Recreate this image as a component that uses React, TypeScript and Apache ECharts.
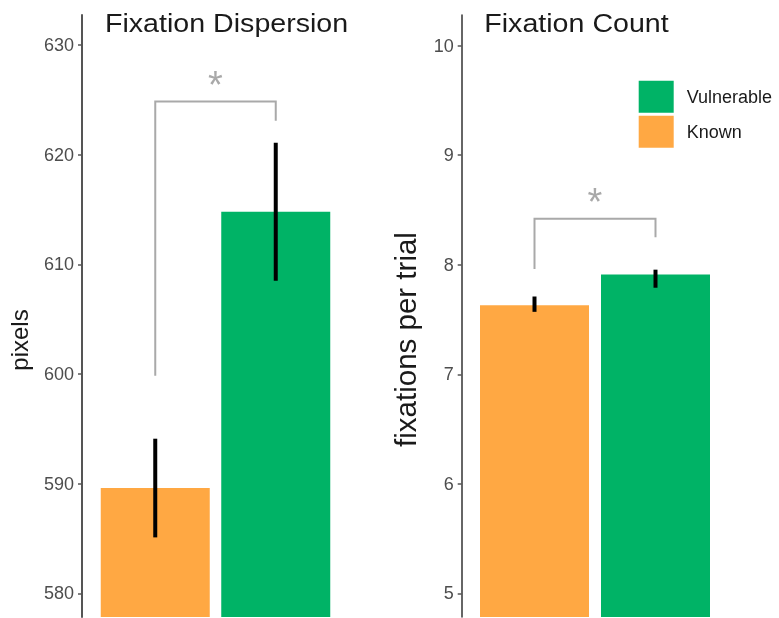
import React, { useEffect, useRef } from "react";
import * as echarts from "echarts";

// ---- data ----
const categories = ["Known", "Vulnerable"];
const seriesNames = ["Known", "Vulnerable"];
const dispersionMeans = [589.6, 614.8];
const dispersionLow = [585.1, 608.5];
const dispersionHigh = [594.1, 621.1];
const countMeans = [7.63, 7.91];
const countLow = [7.57, 7.79];
const countHigh = [7.71, 7.955];
// [left foot, bracket top, right foot]
const dispersionBracket = [599.85, 624.85, 623.1];
const countBracket = [7.96, 8.42, 8.25];
const dispersionTicks = [580, 590, 600, 610, 620, 630];
const countTicks = [5, 6, 7, 8, 9, 10];
const titles = ["Fixation Dispersion", "Fixation Count"];
const axisNames = ["pixels", "fixations per trial"];
const significance = "*";

const ORANGE = "#FFA843";
const GREEN = "#00B366";
const FONT = "Liberation Sans";

function errorBarSeries(gridIdx: number, low: number[], high: number[]) {
  return {
    type: "custom",
    xAxisIndex: gridIdx,
    yAxisIndex: gridIdx,
    data: low.map((l, i) => [i, l, high[i]]),
    renderItem: (params: any, api: any) => {
      const x = api.value(0);
      const a = api.coord([x, api.value(1)]);
      const b = api.coord([x, api.value(2)]);
      return {
        type: "line",
        shape: { x1: a[0], y1: a[1], x2: b[0], y2: b[1] },
        style: { stroke: "#000", lineWidth: 4 },
      };
    },
    z: 5,
  };
}

function bracketSeries(gridIdx: number, br: number[]) {
  return {
    type: "custom",
    xAxisIndex: gridIdx,
    yAxisIndex: gridIdx,
    data: [[0, br[0], br[1], br[2]]],
    renderItem: (params: any, api: any) => {
      const p1 = api.coord([0, api.value(1)]);
      const p2 = api.coord([0, api.value(2)]);
      const p3 = api.coord([1, api.value(2)]);
      const p4 = api.coord([1, api.value(3)]);
      return {
        type: "group",
        children: [
          {
            type: "polyline",
            shape: { points: [p1, p2, p3, p4] },
            style: { stroke: "#A9A9A9", lineWidth: 2, fill: "none" },
          },
          {
            type: "text",
            x: (p2[0] + p3[0]) / 2,
            y: p2[1] - 17,
            style: {
              text: significance,
              fontSize: 38,
              fontFamily: FONT,
              fill: "#A9A9A9",
              align: "center",
              verticalAlign: "middle",
            },
          },
        ],
      };
    },
    z: 4,
  };
}

function yAxisFor(gridIdx: number, min: number, max: number, offset: number, ticks: number[], lineWidth: number, lineColor: string) {
  return {
    gridIndex: gridIdx,
    type: "value",
    min,
    max,
    offset,
    splitLine: { show: false },
    axisLine: { show: true, lineStyle: { color: lineColor, width: lineWidth } },
    axisTick: { show: true, length: 4, customValues: ticks, lineStyle: { color: "#555", width: 1.5 } },
    axisLabel: { customValues: ticks, fontSize: 18, color: "#4D4D4D", margin: 8, fontFamily: FONT },
  };
}

export default function App() {
  const ref = useRef<HTMLDivElement>(null);
  useEffect(() => {
    if (!ref.current) return;
    const chart = echarts.init(ref.current, undefined, { renderer: "svg" });
    const option: any = {
      animation: false,
      textStyle: { fontFamily: FONT },
      grid: [
        { left: 95, width: 241, top: 15, height: 602 },
        { left: 474, width: 242, top: 15, height: 602 },
      ],
      xAxis: [
        { gridIndex: 0, type: "category", data: categories, show: false },
        { gridIndex: 1, type: "category", data: categories, show: false },
      ],
      yAxis: [
        yAxisFor(0, 577.84, 632.74, 13, dispersionTicks, 2, "#555"),
        yAxisFor(1, 4.784, 10.28, 12.3, countTicks, 1.5, "#333"),
      ],
      legend: {
        data: [seriesNames[1], seriesNames[0]],
        orient: "vertical",
        left: 638.7,
        top: 80.7,
        padding: 0,
        itemWidth: 35,
        itemHeight: 32,
        itemGap: 3,
        icon: "rect",
        selectedMode: false,
        textStyle: { fontSize: 18, color: "#1A1A1A", fontFamily: FONT, padding: [0, 0, 0, 8] },
      },
      graphic: [
        {
          type: "text",
          x: 105,
          y: 23,
          scaleX: 1.1,
          style: { text: titles[0], fontSize: 26, fontFamily: FONT, fill: "#1A1A1A", align: "left", verticalAlign: "middle" },
        },
        {
          type: "text",
          x: 484.3,
          y: 23,
          scaleX: 1.1,
          style: { text: titles[1], fontSize: 26, fontFamily: FONT, fill: "#1A1A1A", align: "left", verticalAlign: "middle" },
        },
        {
          type: "text",
          x: 19.5,
          y: 340,
          rotation: Math.PI / 2,
          style: { text: axisNames[0], fontSize: 24, fontFamily: FONT, fill: "#1A1A1A", align: "center", verticalAlign: "middle" },
        },
        {
          type: "text",
          x: 405,
          y: 339.5,
          rotation: Math.PI / 2,
          style: { text: axisNames[1], fontSize: 29.5, fontFamily: FONT, fill: "#1A1A1A", align: "center", verticalAlign: "middle" },
        },
      ],
      series: [
        { name: seriesNames[0], type: "bar", xAxisIndex: 0, yAxisIndex: 0, data: [dispersionMeans[0], "-"], barWidth: 109, barGap: "-100%", itemStyle: { color: ORANGE } },
        { name: seriesNames[1], type: "bar", xAxisIndex: 0, yAxisIndex: 0, data: ["-", dispersionMeans[1]], barWidth: 109, barGap: "-100%", itemStyle: { color: GREEN } },
        { name: seriesNames[0], type: "bar", xAxisIndex: 1, yAxisIndex: 1, data: [countMeans[0], "-"], barWidth: 109, barGap: "-100%", itemStyle: { color: ORANGE } },
        { name: seriesNames[1], type: "bar", xAxisIndex: 1, yAxisIndex: 1, data: ["-", countMeans[1]], barWidth: 109, barGap: "-100%", itemStyle: { color: GREEN } },
        errorBarSeries(0, dispersionLow, dispersionHigh),
        errorBarSeries(1, countLow, countHigh),
        bracketSeries(0, dispersionBracket),
        bracketSeries(1, countBracket),
      ],
    };
    chart.setOption(option);
    return () => chart.dispose();
  }, []);
  return <div ref={ref} style={{ position: "fixed", left: 0, top: 0, width: 779, height: 618 }} />;
}
